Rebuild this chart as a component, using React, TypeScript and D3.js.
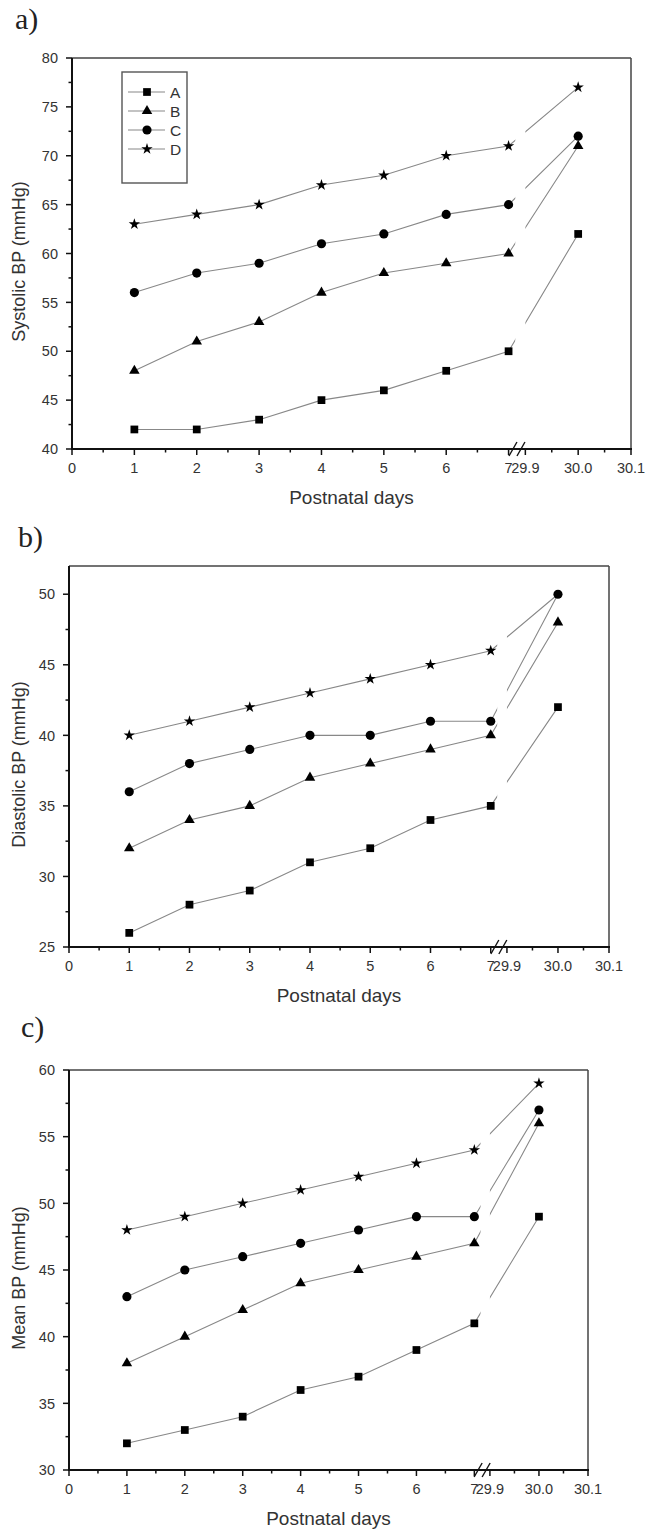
import React from "react";
import * as d3 from "d3";

// postnatal days (30.0 sits after the axis break)
const days = [1, 2, 3, 4, 5, 6, 7, 30.0];
const seriesNames = ["A", "B", "C", "D"];

// a) systolic BP (mmHg)
const sysA = [42, 42, 43, 45, 46, 48, 50, 62];
const sysB = [48, 51, 53, 56, 58, 59, 60, 71];
const sysC = [56, 58, 59, 61, 62, 64, 65, 72];
const sysD = [63, 64, 65, 67, 68, 70, 71, 77];

// b) diastolic BP (mmHg)
const diaA = [26, 28, 29, 31, 32, 34, 35, 42];
const diaB = [32, 34, 35, 37, 38, 39, 40, 48];
const diaC = [36, 38, 39, 40, 40, 41, 41, 50];
const diaD = [40, 41, 42, 43, 44, 45, 46, 50];

// c) mean BP (mmHg)
const meanA = [32, 33, 34, 36, 37, 39, 41, 49];
const meanB = [38, 40, 42, 44, 45, 46, 47, 56];
const meanC = [43, 45, 46, 47, 48, 49, 49, 57];
const meanD = [48, 49, 50, 51, 52, 53, 54, 59];

const xTicks = [0, 1, 2, 3, 4, 5, 6, 7, 29.9, 30.0, 30.1];
const xTickLabels = ["0", "1", "2", "3", "4", "5", "6", "7", "29.9", "30.0", "30.1"];
const xMinor = [0.5, 1.5, 2.5, 3.5, 4.5, 5.5, 6.5, 29.95, 30.05];

const symbols = [d3.symbolSquare, d3.symbolTriangle, d3.symbolCircle, d3.symbolStar];
const symSizes = [60, 48, 66, 40];

const panels = [
  { id: "a", tag: "a)", tagX: 15, tagY: 29, L: 72, R: 631, T: 58, B: 449, y: [40, 80], title: "Systolic BP (mmHg)",
    series: [sysA, sysB, sysC, sysD], legend: true },
  { id: "b", tag: "b)", tagX: 18, tagY: 547, L: 69, R: 609, T: 566, B: 947, y: [25, 52], title: "Diastolic BP (mmHg)",
    series: [diaA, diaB, diaC, diaD], legend: false },
  { id: "c", tag: "c)", tagX: 21, tagY: 1037, L: 69, R: 588, T: 1070, B: 1470, y: [30, 60], title: "Mean BP (mmHg)",
    series: [meanA, meanB, meanC, meanD], legend: false },
];

const sans = "'Liberation Sans', Arial, sans-serif";
const textCol = "#333";

function Panel({ p }: { p: any }) {
  const w = p.R - p.L;
  const x1 = p.L + w * 0.781;
  const x2 = x1 + w * 0.03;
  const x = d3.scaleLinear().domain([0, 7, 29.9, 30.1]).range([p.L, x1, x2, p.R]);
  const y = d3.scaleLinear().domain(p.y).range([p.B, p.T]);
  const yMajor = d3.range(Math.ceil(p.y[0] / 5) * 5, p.y[1] + 0.01, 5);
  const yMinor = d3.range(Math.ceil(p.y[0] / 2.5) * 2.5, p.y[1] + 0.01, 2.5).filter((v) => v % 5 !== 0);
  const line = d3.line<number>().x((_, i) => x(days[i])).y((v) => y(v));
  const hideL = x1 + (x2 - x1) * 0.4;
  const gapC = (x1 + x2) / 2;
  const clipId = `clip-${p.id}`;
  // draw order: D first so C's circle covers it where they coincide
  const order = [3, 1, 0, 2];
  // a marker hidden under another series' marker at the same spot is not shown
  const hidden = (s: number, i: number) =>
    s === 3 && p.series[2][i] === p.series[3][i];

  return (
    <g>
      <text x={p.tagX} y={p.tagY} fontFamily="'Liberation Serif', 'Times New Roman', serif" fontSize={30} fill="#222">
        {p.tag}
      </text>
      <defs>
        <clipPath id={clipId}>
          <rect x={0} y={p.T - 20} width={hideL} height={p.B - p.T + 40} />
          <rect x={x2} y={p.T - 20} width={700 - x2} height={p.B - p.T + 40} />
        </clipPath>
      </defs>

      {/* frame */}
      <line x1={p.L} x2={p.R} y1={p.T} y2={p.T} stroke="#444" strokeWidth={1.5} />
      <line x1={p.R} x2={p.R} y1={p.T} y2={p.B} stroke="#444" strokeWidth={1.5} />
      <line x1={p.L} x2={p.L} y1={p.T} y2={p.B + 1} stroke="#111" strokeWidth={2} />
      <line x1={p.L - 1} x2={p.R + 1} y1={p.B} y2={p.B} stroke="#111" strokeWidth={2} />

      {/* y ticks */}
      {yMajor.map((v) => (
        <g key={`ym${v}`}>
          <line x1={p.L - 6} x2={p.L} y1={y(v)} y2={y(v)} stroke="#111" strokeWidth={1.5} />
          <text x={p.L - 14} y={y(v)} dy="0.36em" textAnchor="end" fontFamily={sans} fontSize={14.5} fill={textCol}>
            {v}
          </text>
        </g>
      ))}
      {yMinor.map((v) => (
        <line key={`yn${v}`} x1={p.L - 3.5} x2={p.L} y1={y(v)} y2={y(v)} stroke="#111" strokeWidth={1.5} />
      ))}

      {/* x ticks */}
      {xTicks.map((v, i) => (
        <g key={`xm${v}`}>
          <line x1={x(v)} x2={x(v)} y1={p.B} y2={p.B + 6} stroke="#111" strokeWidth={1.5} />
          <text x={x(v)} y={p.B + 24} textAnchor="middle" fontFamily={sans} fontSize={14.5} fill={textCol}>
            {xTickLabels[i]}
          </text>
        </g>
      ))}
      {xMinor.map((v) => (
        <line key={`xn${v}`} x1={x(v)} x2={x(v)} y1={p.B} y2={p.B + 3.5} stroke="#111" strokeWidth={1.5} />
      ))}

      {/* axis break */}
      {[-4, 4].map((d) => (
        <line key={`br${d}`} x1={gapC + d - 4} y1={p.B + 7} x2={gapC + d + 4} y2={p.B - 7} stroke="#111" strokeWidth={1.4} />
      ))}

      {/* axis titles */}
      <text x={(p.L + p.R) / 2} y={p.B + 55} textAnchor="middle" fontFamily={sans} fontSize={19} fill={textCol}>
        Postnatal days
      </text>
      <text
        transform={`translate(25, ${(p.T + p.B) / 2 + 8}) rotate(-90)`}
        textAnchor="middle"
        fontFamily={sans}
        fontSize={18}
        fill={textCol}
      >
        {p.title}
      </text>

      {/* lines */}
      <g clipPath={`url(#${clipId})`}>
        {order.map((s) => (
          <path key={`l${s}`} d={line(p.series[s]) || ""} fill="none" stroke="#888" strokeWidth={1.1} />
        ))}
      </g>
      {/* markers */}
      {order.map((s) =>
        p.series[s].map((v: number, i: number) =>
          hidden(s, i) ? null : (
            <path
              key={`m${s}-${i}`}
              d={d3.symbol(symbols[s], symSizes[s])() || ""}
              transform={`translate(${x(days[i])}, ${y(v)})`}
              fill="#000"
            />
          )
        )
      )}

      {p.legend && (
        <g>
          <rect x={122} y={72} width={65} height={111} fill="none" stroke="#555" strokeWidth={1.4} />
          {seriesNames.map((n, i) => (
            <g key={n} transform={`translate(0, ${92 + i * 19})`}>
              <line x1={128} x2={165} y1={0} y2={0} stroke="#888" strokeWidth={1.1} />
              <path d={d3.symbol(symbols[i], symSizes[i])() || ""} transform="translate(147, 0)" fill="#000" />
              <text x={170} y={0} dy="0.36em" fontFamily={sans} fontSize={15.5} fill={textCol}>
                {n}
              </text>
            </g>
          ))}
        </g>
      )}
    </g>
  );
}

export default function App() {
  return (
    <svg
      width={646}
      height={1530}
      style={{ position: "absolute", left: 0, top: 0, background: "#fff" }}
    >
      <rect width={646} height={1530} fill="#fff" />
      {panels.map((p) => (
        <Panel key={p.id} p={p} />
      ))}
    </svg>
  );
}
